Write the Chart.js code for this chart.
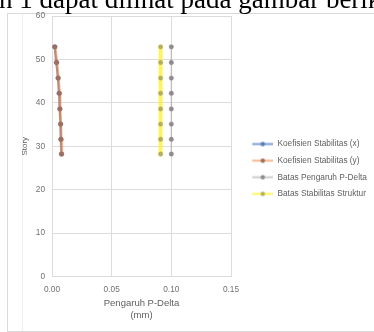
<!DOCTYPE html>
<html>
<head>
<meta charset="utf-8">
<script src="https://cdn.jsdelivr.net/npm/chart.js@4"></script>
<style>
html,body{margin:0;padding:0;background:#fff;width:374px;height:332px;overflow:hidden;position:relative;}
#frame{position:absolute;left:7px;top:13px;width:380px;height:317px;border:1px solid #d9d9d9;}
#inner{position:absolute;left:22px;top:14px;width:1px;height:317px;background:#efefef;}
#wrap{position:absolute;left:0;top:0;width:374px;height:332px;}
#txt{position:absolute;left:-1px;top:-14px;font-family:"Liberation Serif",serif;font-size:27px;line-height:27px;white-space:nowrap;color:#000;}
</style>
</head>
<body>
<div id="frame"></div>
<div id="inner"></div>
<div id="wrap"><canvas id="c" width="374" height="332"></canvas></div>
<div id="txt">n 1 dapat dilihat pada gambar berikut</div>
<script>
const stories = [52.9, 49.3, 45.7, 42.2, 38.6, 35.1, 31.6, 28.2];
const koefX = [0.0022, 0.0036, 0.0050, 0.0059, 0.0065, 0.0071, 0.0074, 0.0079];
const koefY = [0.0025, 0.0040, 0.0053, 0.0062, 0.0067, 0.0073, 0.0076, 0.0081];
const batasPDelta = [0.10, 0.10, 0.10, 0.10, 0.10, 0.10, 0.10, 0.10];
const batasStabilitas = [0.091, 0.091, 0.091, 0.091, 0.091, 0.091, 0.091, 0.091];
const seriesNames = ['Koefisien Stabilitas (x)', 'Koefisien Stabilitas (y)', 'Batas Pengaruh P-Delta', 'Batas Stabilitas Struktur'];
const xTicks = [0, 0.05, 0.10, 0.15];
const yTicks = [0, 10, 20, 30, 40, 50, 60];

const styles = [
  {line:'rgba(68,114,196,0.7)', lw:2, pt:'#5b7bb5'},
  {line:'rgba(237,125,49,0.55)', lw:3, pt:'#a06e5c'},
  {line:'rgba(165,165,165,0.55)', lw:1.5, pt:'#8c8c8c'},
  {line:'rgba(255,240,40,0.75)', lw:4, pt:'#b4b058'}
];
const vals = [koefX, koefY, batasPDelta, batasStabilitas];

function legendImg(s){
  const W = 34, H = 7;
  const c = document.createElement('canvas');
  c.width = W; c.height = H;
  const g = c.getContext('2d');
  g.strokeStyle = s.line; g.lineWidth = 2;
  g.beginPath(); g.moveTo(W-21, H/2); g.lineTo(W, H/2); g.stroke();
  g.fillStyle = s.pt;
  g.beginPath(); g.arc(W-10.5, H/2, 2.2, 0, Math.PI*2); g.fill();
  return c;
}
const imgs = styles.map(legendImg);

const datasets = vals.map((arr, i) => ({
  label: seriesNames[i],
  data: arr.map((v, k) => ({x: v, y: stories[k]})),
  showLine: true,
  borderColor: styles[i].line,
  borderWidth: styles[i].lw,
  pointRadius: 2.2,
  pointBackgroundColor: styles[i].pt,
  pointBorderColor: styles[i].pt,
  pointBorderWidth: 0.5,
  order: 4 - i
}));

const fam = '"Liberation Sans", Arial, sans-serif';
const tickFont = {family: fam, size: 8.3};
const gridColor = '#dcdcdc';

new Chart(document.getElementById('c'), {
  type: 'scatter',
  data: {datasets},
  options: {
    responsive: false,
    animation: false,
    devicePixelRatio: 1,
    layout: {padding: {top: 16, left: 0, right: 0, bottom: 0}},
    scales: {
      x: {
        type: 'linear', min: 0, max: 0.15,
        afterBuildTicks: (s) => { s.ticks = xTicks.map(v => ({value: v})); },
        afterFit: (s) => { s.height = 55.5; },
        ticks: {font: tickFont, color: '#707070', padding: 8, callback: (v) => v.toFixed(2)},
        grid: {color: gridColor, drawTicks: false},
        border: {color: gridColor},
        title: {display: true, text: ['Pengaruh P-Delta', '(mm)'], font: {family: fam, size: 9.5, lineHeight: 1.3}, color: '#606060', padding: {top: 0, bottom: 10}}
      },
      y: {
        type: 'linear', min: 0, max: 60,
        afterBuildTicks: (s) => { s.ticks = yTicks.map(v => ({value: v})); },
        afterFit: (s) => { s.width = 52; },
        ticks: {font: tickFont, color: '#707070', padding: 7},
        grid: {color: gridColor, drawTicks: false},
        border: {color: gridColor},
        title: {display: true, text: 'Story', font: {family: fam, size: 8}, color: '#606060', padding: {top: 20, bottom: 0}}
      }
    },
    plugins: {
      tooltip: {enabled: false},
      legend: {
        position: 'right',
        align: 'center',
        fullSize: false,
        maxWidth: 143,
        title: {display: true, text: ' ', padding: {top: 37, bottom: 0}, font: {size: 7}},
        labels: {
          font: {family: fam, size: 8.3},
          color: '#606060',
          usePointStyle: true,
          pointStyleWidth: 34,
          padding: 8.3,
          generateLabels: (chart) => Chart.defaults.plugins.legend.labels.generateLabels(chart)
            .sort((a, b) => a.datasetIndex - b.datasetIndex)
            .map(l => Object.assign(l, {pointStyle: imgs[l.datasetIndex]}))
        }
      }
    }
  }
});
</script>
</body>
</html>
